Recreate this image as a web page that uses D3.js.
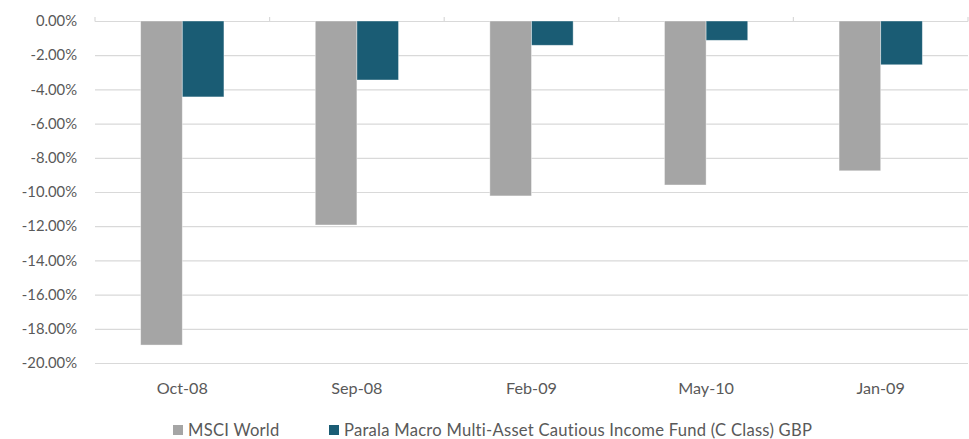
<!DOCTYPE html>
<html>
<head>
<meta charset="utf-8">
<script src="https://cdn.jsdelivr.net/npm/d3@7"></script>
<style>
    body { margin: 0; background: #fff; }
    svg { display: block; }
</style>
</head>
<body>
<div id="container"><svg></svg></div>
<script>
let width = 969;
let height = 439;

// data
let categories = ['Oct-08', 'Sep-08', 'Feb-09', 'May-10', 'Jan-09'];
let series = ['MSCI World', 'Parala Macro Multi-Asset Cautious Income Fund (C Class) GBP'];
let msci = [-18.95, -11.93, -10.23, -9.59, -8.76];
let parala = [-4.44, -3.45, -1.42, -1.13, -2.56];
let yTicks = [0, -2, -4, -6, -8, -10, -12, -14, -16, -18, -20];

let colors = ['#a5a5a5', '#1a5c74'];
let fontFamily = 'Lato, "Open Sans", sans-serif';
let textColor = '#595959';

let padding = {left: 95, right: 1, top: 21, bottom: 76};

let svg = d3.select('#container').select('svg')
    .attr('width', width)
    .attr('height', height)
    .style('font-family', fontFamily);

let x0 = d3.scaleBand()
    .domain(categories)
    .range([padding.left, width - padding.right])
    .paddingInner(0.523)
    .paddingOuter(0.2615);

let x1 = d3.scaleBand()
    .domain([0, 1])
    .range([0, x0.bandwidth()]);

let y = d3.scaleLinear()
    .domain([-20, 0])
    .range([height - padding.bottom, padding.top]);

// gridlines
svg.append('g')
    .selectAll('line')
    .data(yTicks)
    .enter().append('line')
    .attr('x1', padding.left)
    .attr('x2', width - padding.right)
    .attr('y1', d => y(d) + 0.5)
    .attr('y2', d => y(d) + 0.5)
    .attr('stroke', '#d9d9d9')
    .attr('stroke-width', 1.2);

// y axis labels
svg.append('g')
    .attr('transform', `translate(${padding.left - 18}, 0)`)
    .call(d3.axisLeft(y).tickValues(yTicks).tickSize(0).tickPadding(0)
        .tickFormat(d => d.toFixed(2) + '%'))
    .call(g => g.select('.domain').remove())
    .selectAll('text')
    .attr('fill', textColor)
    .attr('font-size', '14.8px')
    .attr('font-family', fontFamily);

// bars
let rows = categories.map((c, i) => ({cat: c, values: [msci[i], parala[i]]}));
let groups = svg.append('g')
    .selectAll('g')
    .data(rows)
    .enter().append('g')
    .attr('transform', d => `translate(${x0(d.cat)}, 0)`);

groups.selectAll('rect')
    .data(d => d.values.map((v, k) => ({k: k, v: v})))
    .enter().append('rect')
    .attr('x', d => x1(d.k))
    .attr('y', y(0))
    .attr('width', x1.bandwidth())
    .attr('height', d => y(d.v) - y(0))
    .attr('fill', d => colors[d.k])
    .attr('stroke', '#ffffff')
    .attr('stroke-opacity', 0.5)
    .attr('stroke-width', 0.8);

// zero axis with ticks between categories
let bounds = d3.range(categories.length + 1).map(i => padding.left + i * x0.step());
svg.append('g')
    .selectAll('line')
    .data(bounds)
    .enter().append('line')
    .attr('x1', d => d)
    .attr('x2', d => d)
    .attr('y1', y(0) - 4)
    .attr('y2', y(0) + 0.5)
    .attr('stroke', '#d9d9d9')
    .attr('stroke-width', 1.2);

// x labels
svg.append('g')
    .selectAll('text')
    .data(categories)
    .enter().append('text')
    .attr('x', d => x0(d) + x0.bandwidth() / 2)
    .attr('y', 394)
    .attr('text-anchor', 'middle')
    .attr('fill', textColor)
    .attr('font-size', '16.2px')
    .text(d => d);

// legend
let legendX = [173, 329];
let legend = svg.append('g')
    .selectAll('g')
    .data(series)
    .enter().append('g')
    .attr('transform', (d, i) => `translate(${legendX[i]}, 425)`);
legend.append('rect')
    .attr('width', 10)
    .attr('height', 10)
    .attr('fill', (d, i) => colors[i]);
legend.append('text')
    .attr('x', 15)
    .attr('y', 10.5)
    .attr('fill', textColor)
    .attr('font-size', '16.6px')
    .attr('letter-spacing', '0.25px')
    .text(d => d);
</script>
</body>
</html>
